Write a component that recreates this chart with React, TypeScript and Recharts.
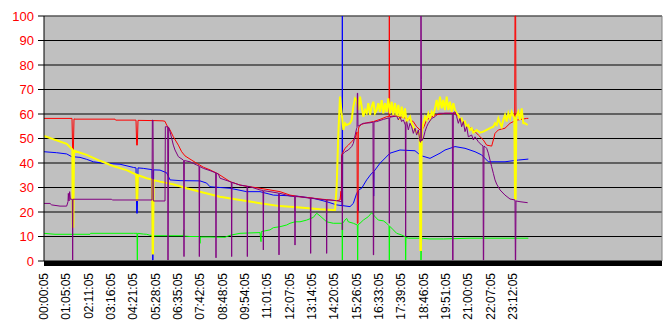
import { LineChart, Line, XAxis, YAxis, CartesianGrid, ReferenceLine } from "recharts";

// x = sample index (about one per minute), a label every 67 samples
const tickLabels = [
  "00:00:05", "01:05:05", "02:11:05", "03:16:05", "04:21:05", "05:28:05",
  "06:35:05", "07:42:05", "08:48:05", "09:54:05", "11:01:05", "12:07:05",
  "13:14:05", "14:20:05", "15:26:05", "16:33:05", "17:39:05", "18:46:05",
  "19:51:05", "21:00:05", "22:07:05", "23:12:05",
];
const LABEL_STEP = 67;
const X_END = 1854;
const yTicks = [0, 10, 20, 30, 40, 50, 60, 70, 80, 90, 100];

type P = [number, number];

const red: P[] = [
  [0, 58.2], [84, 58.2], [86, 44.6], [88, 44.6], [90, 58.0], [93, 57.9], [213, 57.9], [215, 57.5],
  [276, 57.5], [278, 47.3], [280, 47.3], [282, 57.4], [333, 57.3], [357, 57.2], [363, 57.0],
  [368, 55.5], [378, 53.5], [388, 50.7], [403, 47.3], [413, 44.6], [423, 42.9], [438, 41.6],
  [458, 39.9], [478, 38.3], [498, 37.2], [523, 35.5], [558, 32.4], [588, 31.0], [618, 30.3],
  [648, 29.7], [678, 29.0], [708, 28.3], [738, 26.9], [768, 26.2], [798, 25.8], [828, 25.3],
  [858, 24.9], [878, 24.6], [888, 24.9], [891, 28.5], [892, 24.9], [893, 43.3], [903, 46.0],
  [913, 47.3], [923, 48.7], [933, 50.1], [939, 52.7], [940, 15.4], [942, 15.4], [943, 53.5],
  [945, 54.8], [953, 55.8], [968, 56.4], [988, 56.9], [1008, 57.8], [1028, 58.9], [1035, 58.9],
  [1036, 100], [1037, 58.9], [1048, 59.2], [1068, 58.9], [1088, 58.2], [1108, 56.9], [1118, 54.8],
  [1128, 53.5], [1138, 54.2], [1148, 57.6], [1173, 59.6], [1203, 60.3], [1233, 60.3], [1243, 58.9],
  [1253, 57.6], [1263, 56.2], [1273, 54.8], [1288, 53.5], [1303, 51.4], [1318, 49.4], [1328, 47.3],
  [1343, 46.9], [1348, 49.4], [1353, 52.1], [1363, 53.5], [1383, 54.2], [1398, 56.2], [1408, 56.9],
  [1412, 56.9], [1413, 100], [1415, 100], [1416, 57.5], [1423, 57.6], [1448, 58.2], [1453, 58.2],
];

const yellow: P[] = [
  [0, 51.0], [68, 47.8], [83, 45.8], [85, 45.5], [86, 14.0], [88, 14.0], [90, 45.0], [128, 43.3],
  [168, 40.9], [207, 38.8], [248, 37.1], [276, 35.3], [278, 24.9], [280, 24.9], [282, 35.0],
  [308, 33.8], [324, 33.2], [326, 3.1], [327, 3.1], [329, 33.0], [348, 32.4], [387, 31.3],
  [428, 29.7], [468, 28.3], [528, 26.2], [588, 24.9], [648, 23.6], [708, 22.4], [768, 21.8],
  [828, 21.1], [868, 20.8], [873, 20.8], [878, 30.3], [883, 52.1], [888, 67.1], [893, 60.3],
  [898, 53.5], [903, 56.2], [908, 55.5], [918, 56.2], [923, 57.6], [928, 63.0], [933, 66.4],
  [938, 65.7], [943, 61.6], [948, 67.1], [953, 63.0], [958, 58.9], [963, 61.6], [968, 60.3],
  [973, 64.4], [978, 59.6], [983, 63.0], [988, 65.0], [993, 60.3], [998, 61.6], [1003, 64.4],
  [1008, 60.9], [1013, 65.7], [1018, 60.3], [1023, 64.4], [1028, 60.9], [1033, 66.4], [1038, 60.3],
  [1043, 65.0], [1048, 59.6], [1053, 64.4], [1058, 58.9], [1063, 63.7], [1068, 57.6], [1073, 63.0],
  [1078, 58.2], [1083, 62.3], [1088, 56.9], [1098, 58.9], [1103, 56.2], [1108, 54.8], [1113, 53.5],
  [1120, 52.1], [1127, 52.0], [1129, 4.5], [1131, 4.5], [1133, 52.5], [1138, 56.2], [1143, 58.9],
  [1148, 57.6], [1153, 60.3], [1158, 58.2], [1163, 60.9], [1168, 59.6], [1173, 62.3], [1178, 65.7],
  [1183, 61.6], [1188, 67.1], [1193, 62.3], [1198, 65.7], [1203, 61.6], [1208, 67.1], [1213, 61.6],
  [1218, 65.0], [1223, 60.9], [1228, 64.4], [1233, 61.6], [1238, 60.3], [1243, 59.6], [1248, 57.6],
  [1253, 58.2], [1258, 56.2], [1263, 56.9], [1268, 54.8], [1273, 55.5], [1278, 53.5], [1283, 54.2],
  [1288, 52.4], [1298, 53.5], [1308, 52.4], [1318, 52.8], [1328, 53.5], [1338, 54.2], [1348, 54.8],
  [1353, 56.2], [1358, 55.5], [1363, 58.2], [1368, 56.2], [1373, 54.8], [1378, 57.6], [1383, 59.6],
  [1388, 56.9], [1393, 60.3], [1398, 58.2], [1403, 60.9], [1408, 59.2], [1411, 58.5], [1413, 25.5],
  [1415, 25.5], [1417, 58.9], [1423, 60.9], [1428, 57.6], [1433, 62.3], [1438, 56.2], [1443, 56.2],
  [1451, 55.5],
];

const blue: P[] = [
  [0, 44.6], [38, 44.2], [68, 43.7], [83, 42.6], [108, 42.3], [128, 41.5], [148, 40.5], [178, 39.9],
  [228, 39.5], [268, 38.2], [276, 38.0], [278, 19.5], [280, 19.5], [282, 38.0], [298, 37.8],
  [324, 37.3], [326, 0.4], [327, 0.4], [329, 37.2], [348, 37.1], [368, 36.0], [378, 33.1],
  [408, 32.8], [468, 32.7], [488, 31.8], [498, 30.3], [558, 29.7], [608, 28.3], [648, 28.3],
  [688, 26.9], [758, 26.5], [808, 25.6], [848, 24.2], [878, 22.9], [894, 22.6], [895, 100],
  [896, 22.6], [918, 22.2], [928, 23.5], [938, 27.6], [942, 28.5], [943, 20.5], [944, 29.0],
  [953, 29.7], [968, 33.1], [983, 35.8], [988, 36.3], [989, 26.5], [990, 36.6], [1008, 39.9],
  [1038, 44.0], [1068, 45.3], [1113, 45.0], [1128, 43.3], [1129, 43.2], [1130, 22.2], [1131, 43.0],
  [1158, 41.9], [1188, 44.0], [1203, 45.3], [1233, 46.7], [1263, 46.0], [1293, 44.6], [1313, 43.3],
  [1333, 40.5], [1383, 40.5], [1423, 41.2], [1453, 41.6],
];

const purple: P[] = [
  [0, 23.5], [18, 23.5], [23, 22.9], [48, 22.4], [68, 22.4], [72, 24.2], [73, 27.6], [75, 24.5],
  [77, 28.3], [79, 25.2], [85, 25.2], [86, 0.4], [87, 25.2], [203, 25.2], [205, 24.9], [324, 24.9],
  [325, 57.5], [327, 57.5], [328, 24.5], [363, 24.5], [364, 54.8], [371, 54.8], [372, 0.4],
  [374, 54.5], [378, 52.8], [383, 50.1], [388, 47.3], [393, 45.3], [403, 42.6], [418, 41.2],
  [419, 41.0], [420, 1.8], [421, 41.0], [438, 40.5], [458, 39.2], [465, 38.8], [466, 1.8],
  [467, 38.6], [478, 37.8], [498, 36.9], [515, 36.0], [516, 1.3], [517, 35.9], [523, 35.5],
  [528, 33.8], [558, 32.4], [562, 32.2], [563, 1.8], [564, 32.1], [588, 31.0], [609, 30.5],
  [610, 1.8], [611, 30.5], [618, 30.3], [648, 29.0], [657, 28.8], [658, 4.5], [659, 28.7],
  [678, 28.3], [704, 27.7], [705, 2.5], [706, 27.7], [708, 27.6], [738, 26.5], [752, 26.3],
  [753, 6.5], [754, 26.3], [768, 26.2], [799, 25.6], [800, 3.1], [801, 25.6], [828, 25.2],
  [847, 24.9], [848, 3.1], [849, 24.9], [858, 24.9], [878, 24.6], [893, 24.2], [894, 43.0],
  [895, 12.7], [896, 43.6], [903, 44.6], [913, 45.3], [923, 46.7], [928, 48.0], [938, 54.2],
  [939, 54.5], [940, 68.5], [941, 68.5], [942, 55.0], [948, 55.5], [958, 56.2], [978, 56.4],
  [987, 56.7], [988, 2.5], [989, 2.5], [990, 56.8], [998, 56.9], [1018, 57.8], [1035, 58.4],
  [1036, 15.4], [1037, 58.5], [1038, 58.7], [1058, 59.2], [1063, 57.6], [1068, 58.9], [1073, 56.9],
  [1078, 57.6], [1084, 55.5], [1085, 9.9], [1086, 56.5], [1088, 56.9], [1093, 53.5], [1098, 56.2],
  [1103, 54.8], [1108, 52.1], [1113, 54.2], [1118, 51.4], [1123, 53.5], [1128, 48.7], [1130, 48.5],
  [1131, 100], [1132, 74.0], [1133, 49.0], [1138, 50.1], [1143, 52.8], [1148, 54.8], [1153, 56.2],
  [1163, 58.2], [1173, 58.9], [1183, 60.3], [1225, 60.3], [1226, 0.4], [1227, 0.4], [1228, 60.5],
  [1233, 60.9], [1238, 58.9], [1243, 56.2], [1248, 58.2], [1253, 54.8], [1258, 56.9], [1263, 52.8],
  [1268, 54.8], [1273, 50.7], [1283, 51.4], [1288, 49.4], [1293, 50.7], [1303, 48.7], [1313, 47.3],
  [1317, 47.0], [1318, 0.4], [1319, 0.4], [1320, 46.8], [1323, 46.7], [1328, 46.0], [1333, 44.0],
  [1338, 41.2], [1343, 38.5], [1348, 35.8], [1353, 33.1], [1358, 31.4], [1368, 29.0], [1383, 26.9],
  [1398, 25.3], [1413, 24.9], [1414, 0.4], [1415, 0.4], [1416, 24.5], [1428, 24.2], [1451, 23.8],
];

const green: P[] = [
  [0, 11.3], [33, 10.9], [138, 10.9], [140, 11.3], [268, 11.3], [279, 11.3], [280, 0.4], [281, 11.3],
  [298, 11.0], [308, 10.9], [318, 10.5], [325, 10.4], [326, 16.0], [327, 10.3], [333, 10.3],
  [418, 10.3], [419, 12.7], [420, 10.2], [438, 10.0], [467, 10.0], [468, 7.2], [469, 9.8],
  [498, 9.8], [543, 9.7], [558, 10.5], [588, 11.3], [648, 11.6], [651, 7.9], [652, 12.0],
  [678, 12.7], [688, 13.6], [708, 14.0], [728, 14.7], [738, 15.4], [753, 16.0], [768, 16.0],
  [788, 16.7], [808, 17.8], [818, 19.5], [828, 18.4], [848, 16.0], [868, 15.4], [894, 15.4],
  [895, 0.4], [896, 15.4], [903, 16.7], [908, 17.4], [913, 16.0], [928, 15.4], [940, 14.7],
  [941, 0.4], [942, 14.8], [948, 15.4], [958, 16.7], [973, 18.1], [983, 19.7], [993, 18.1],
  [1003, 16.7], [1018, 16.4], [1028, 15.4], [1035, 14.4], [1036, 0.4], [1037, 14.2], [1048, 12.7],
  [1058, 11.3], [1073, 10.6], [1084, 9.9], [1085, 0.4], [1086, 9.6], [1093, 9.3], [1130, 9.3],
  [1131, 0.4], [1132, 4.5], [1133, 9.3], [1158, 9.0], [1198, 9.0], [1278, 9.3], [1453, 9.3],
];

const xTicks = tickLabels.map((_, i) => i * LABEL_STEP);
const pts = (a: P[], key: string) => a.map(([t, v]) => ({ t, [key]: v }));

function TimeTick({ x, y, payload }: any) {
  const label = tickLabels[Math.round(payload.value / LABEL_STEP)];
  return (
    <text
      x={x}
      y={y}
      transform={`rotate(-90 ${x} ${y})`}
      textAnchor="end"
      dominantBaseline="central"
      fontSize={12}
      fill="#000"
    >
      {label}
    </text>
  );
}

export default function App() {
  return (
    <div style={{ position: "absolute", left: 0, top: 0, background: "#fff" }}>
      <LineChart
        width={666}
        height={326}
        margin={{ top: 16, right: 4, bottom: 0, left: 0 }}
        style={{ fontFamily: "'Liberation Sans', Arial, sans-serif" }}
      >
        <CartesianGrid vertical={false} stroke="#000" fill="#c0c0c0" fillOpacity={1} />
        <XAxis
          type="number"
          dataKey="t"
          domain={[0, X_END]}
          ticks={xTicks}
          interval={0}
          height={65}
          tick={<TimeTick />}
          tickLine={false}
          tickMargin={6}
          axisLine={{ stroke: "#000", strokeWidth: 5, transform: "translate(0 2.5)" }}
          allowDataOverflow
        />
        <YAxis
          domain={[0, 100]}
          ticks={yTicks}
          interval={0}
          width={44}
          tick={{ fill: "#ff0000", fontSize: 13 }}
          tickLine={{ stroke: "#000" }}
          axisLine={{ stroke: "#000" }}
          tickMargin={4}
        />
        <ReferenceLine y={100} stroke="#808080" />
        <ReferenceLine x={X_END} stroke="#808080" />
        <Line data={pts(green, "green")} dataKey="green" stroke="#00ff00" dot={false} isAnimationActive={false} strokeWidth={1} />
        <Line data={pts(blue, "blue")} dataKey="blue" stroke="#0000ff" dot={false} isAnimationActive={false} strokeWidth={1} />
        <Line data={pts(red, "red")} dataKey="red" stroke="#ff0000" dot={false} isAnimationActive={false} strokeWidth={1} />
        <Line data={pts(yellow, "yellow")} dataKey="yellow" stroke="#ffff00" dot={false} isAnimationActive={false} strokeWidth={2} />
        <Line data={pts(purple, "purple")} dataKey="purple" stroke="#800080" dot={false} isAnimationActive={false} strokeWidth={1} />
      </LineChart>
    </div>
  );
}
